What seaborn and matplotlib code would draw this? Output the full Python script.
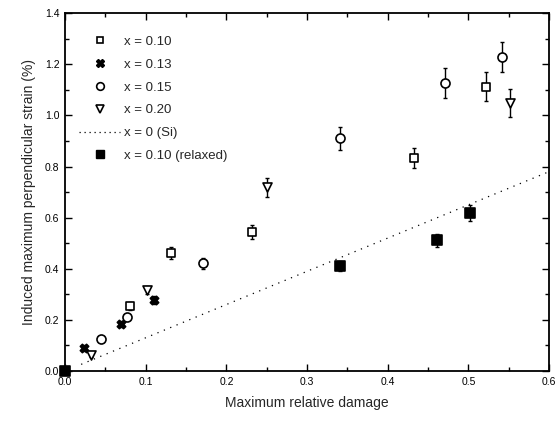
import matplotlib
matplotlib.use("Agg")
import matplotlib.pyplot as plt
import seaborn as sns
import pandas as pd
from matplotlib.lines import Line2D
from matplotlib.ticker import MultipleLocator

# ---- data ----
sq_x = [0.081, 0.131, 0.232, 0.432, 0.522]
sq_y = [0.254, 0.462, 0.544, 0.833, 1.113]
sq_e = [0.015, 0.022, 0.027, 0.040, 0.055]

st_x = [0.023, 0.070, 0.110]
st_y = [0.090, 0.184, 0.278]
st_e = [0.010, 0.012, 0.015]

ci_x = [0.045, 0.077, 0.171, 0.341, 0.471, 0.541]
ci_y = [0.125, 0.211, 0.422, 0.911, 1.127, 1.228]
ci_e = [0.010, 0.012, 0.022, 0.045, 0.058, 0.060]

tr_x = [0.032, 0.101, 0.250, 0.552]
tr_y = [0.062, 0.318, 0.718, 1.048]
tr_e = [0.008, 0.015, 0.038, 0.055]

si_x = [0.020, 0.600]
si_y = [0.026, 0.780]

rl_x = [0.0, 0.341, 0.461, 0.502]
rl_y = [0.0, 0.410, 0.512, 0.618]
rl_e = [0.0, 0.020, 0.025, 0.030]

labels = ["x = 0.10", "x = 0.13", "x = 0.15", "x = 0.20", "x = 0 (Si)", "x = 0.10 (relaxed)"]

sns.set_theme(style="ticks")
plt.rcParams['font.family'] = ['Liberation Sans', 'DejaVu Sans']

fig = plt.figure(figsize=(5.59, 4.24), dpi=100)
ax = fig.add_axes([0.1163, 0.125, 0.866, 0.844])

series = [
    (sq_x, sq_y, sq_e, "s", "white", 5.5, labels[0]),
    (st_x, st_y, st_e, "X", "black", 6.0, labels[1]),
    (ci_x, ci_y, ci_e, "o", "white", 6.5, labels[2]),
    (tr_x, tr_y, tr_e, "v", "white", 6.5, labels[3]),
    (rl_x, rl_y, rl_e, "s", "black", 6.5, labels[5]),
]

for xs, ys, es, mk, fc, ms, lab in series:
    ax.errorbar(xs, ys, yerr=es, fmt="none", ecolor="black", elinewidth=1.0,
                capsize=1.5, capthick=1.0, zorder=2)
    df = pd.DataFrame({"x": xs, "y": ys})
    sns.scatterplot(data=df, x="x", y="y", marker=mk, s=ms**2, color=fc,
                    edgecolor="black", linewidth=1.2, ax=ax, zorder=3,
                    clip_on=False)

sns.lineplot(x=si_x, y=si_y, ax=ax, color="black", linestyle=(0, (1, 4.5)),
             linewidth=0.9, zorder=1)

ax.set_xlim(0, 0.6)
ax.set_ylim(0, 1.4)
ax.xaxis.set_major_locator(MultipleLocator(0.1))
ax.xaxis.set_minor_locator(MultipleLocator(0.05))
ax.yaxis.set_major_locator(MultipleLocator(0.2))
ax.yaxis.set_minor_locator(MultipleLocator(0.1))
ax.set_xticklabels([f"{v:.1f}" for v in ax.get_xticks()])
ax.set_yticklabels([f"{v:.1f}" for v in ax.get_yticks()])
ax.tick_params(which="both", direction="in", top=True, right=True, width=1.0,
               labelsize=7.5, colors="black", pad=4)
ax.tick_params(which="major", length=5)
ax.tick_params(which="minor", length=3)
for sp in ax.spines.values():
    sp.set_visible(True)
    sp.set_linewidth(1.3)
    sp.set_color("black")

ax.set_xlabel("Maximum relative damage", fontsize=10, labelpad=7)
ax.set_ylabel("Induced maximum perpendicular strain (%)", fontsize=10, labelpad=6)

handles = [
    Line2D([], [], marker="s", ls="none", mfc="white", mec="black", ms=5, mew=1.2),
    Line2D([], [], marker="X", ls="none", mfc="black", mec="black", ms=5.5),
    Line2D([], [], marker="o", ls="none", mfc="white", mec="black", ms=5.5, mew=1.2),
    Line2D([], [], marker="v", ls="none", mfc="white", mec="black", ms=5.5, mew=1.2),
    Line2D([], [], color="black", ls=(0, (1, 3)), lw=0.9),
    Line2D([], [], marker="s", ls="none", mfc="black", mec="black", ms=5.5),
]
ax.legend(handles, labels, loc="upper left", bbox_to_anchor=(0.005, 0.97),
          frameon=False, fontsize=9.5, handlelength=3.1, handletextpad=0.25,
          labelspacing=0.8)

fig.savefig("out.png", dpi=100)
